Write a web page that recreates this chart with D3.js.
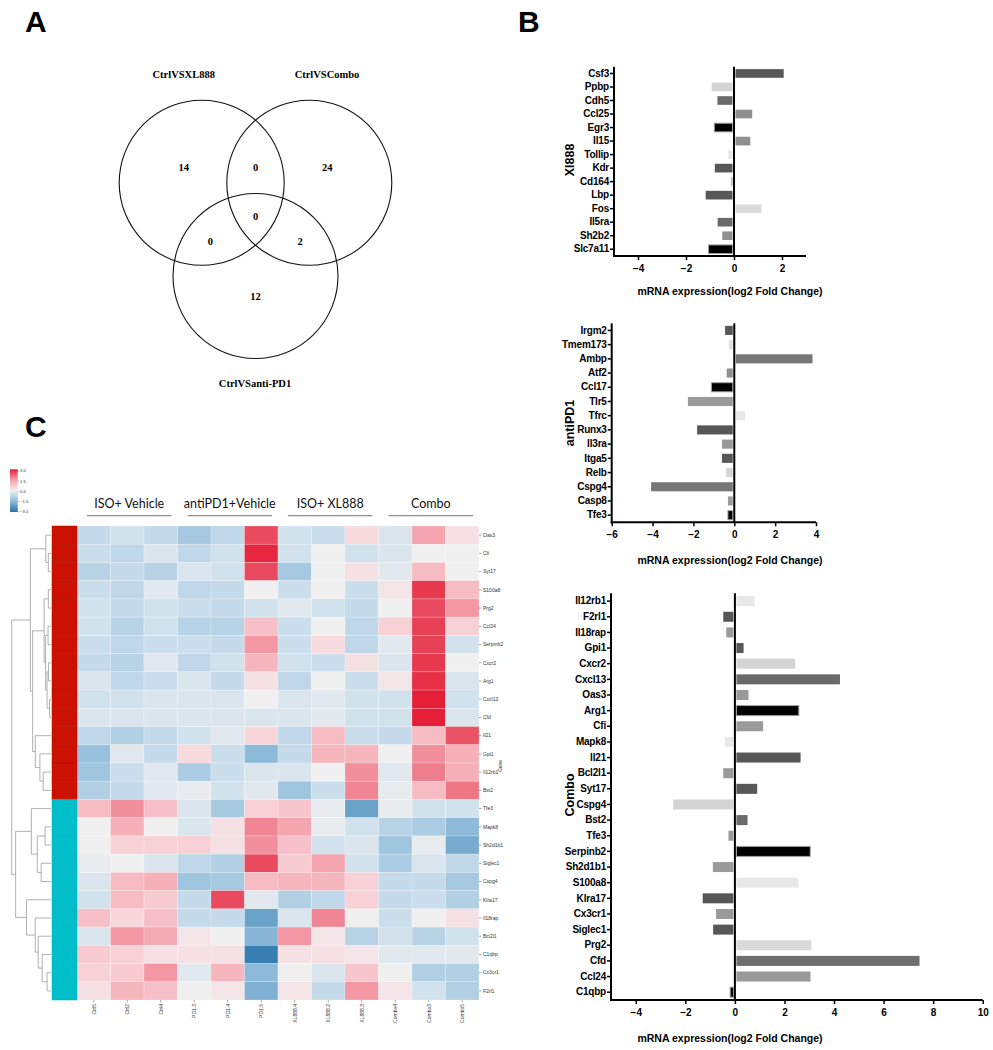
<!DOCTYPE html>
<html><head><meta charset="utf-8">
<script src="https://cdn.jsdelivr.net/npm/d3@7"></script>
<style>body{margin:0;background:#fff}svg{display:block}</style>
</head><body>
<svg id="fig" width="993" height="1050"></svg>
<script>
// ---------- DATA ----------
const vennSets = ["CtrlVSXL888", "CtrlVSCombo", "CtrlVSanti-PD1"];
const vennCounts = [14, 0, 24, 0, 0, 2, 12]; // XL only, XL∩Combo, Combo only, all three, XL∩PD1, Combo∩PD1, PD1 only

const xlGenes = ["Csf3","Ppbp","Cdh5","Ccl25","Egr3","Il15","Tollip","Kdr","Cd164","Lbp","Fos","Il5ra","Sh2b2","Slc7a11"];
const xlValues = [2.07,-0.93,-0.69,0.76,-0.82,0.68,-0.24,-0.8,-0.12,-1.18,1.15,-0.68,-0.49,-1.06];
const xlFills = ["#575757","#d4d4d4","#6a6a6a","#8f8f8f","#000000","#8f8f8f","#e8e8e8","#575757","#b0b0b0","#575757","#dcdcdc","#6a6a6a","#8f8f8f","#000000"];
const xlTicks = [-4,-2,0,2];

const pdGenes = ["Irgm2","Tmem173","Ambp","Atf2","Ccl17","Tlr5","Tfrc","Runx3","Il3ra","Itga5","Relb","Cspg4","Casp8","Tfe3"];
const pdValues = [-0.45,-0.26,3.83,-0.37,-1.12,-2.27,0.53,-1.82,-0.6,-0.6,-0.4,-4.07,-0.31,-0.31];
const pdFills = ["#575757","#e0e0e0","#777777","#8f8f8f","#000000","#9a9a9a","#e8e8e8","#575757","#9a9a9a","#575757","#d4d4d4","#777777","#9a9a9a","#000000"];
const pdTicks = [-6,-4,-2,0,2,4];

const comboGenes = ["Il12rb1","F2rl1","Il18rap","Gpi1","Cxcr2","Cxcl13","Oas3","Arg1","Cfi","Mapk8","Il21","Bcl2l1","Syt17","Cspg4","Bst2","Tfe3","Serpinb2","Sh2d1b1","S100a8","Klra17","Cx3cr1","Siglec1","Prg2","Cfd","Ccl24","C1qbp"];
const comboValues = [0.8,-0.47,-0.35,0.35,2.43,4.24,0.55,2.58,1.14,-0.4,2.65,-0.47,0.9,-2.49,0.51,-0.26,3.04,-0.89,2.57,-1.3,-0.76,-0.88,3.09,7.45,3.05,-0.19];
const comboFills = ["#e8e8e8","#575757","#9a9a9a","#575757","#d4d4d4","#6a6a6a","#9a9a9a","#000000","#9a9a9a","#e8e8e8","#575757","#9a9a9a","#575757","#d4d4d4","#6a6a6a","#9a9a9a","#000000","#9a9a9a","#e8e8e8","#575757","#9a9a9a","#575757","#d9d9d9","#6e6e6e","#9a9a9a","#000000"];
const comboTicks = [-4,-2,0,2,4,6,8,10];

const heatGroups = ["ISO+ Vehicle","antiPD1+Vehicle","ISO+ XL888","Combo"];
const heatSamples = ["Ctrl5","Ctrl2","Ctrl4","PD1.3","PD1.4","PD1.5","XL888.4","XL888.2","XL888.3","Combo4","Combo3","Combo5"];
const heatGenes = ["Oas3","Cfi","Syt17","S100a8","Prg2","Ccl24","Serpinb2","Cxcr2","Arg1","Cxcl13","Cfd","Il21","Gpi1","Il12rb1","Bst2","Tfe3","Mapk8","Sh2d1b1","Siglec1","Cspg4","Klra17","Il18rap","Bcl2l1","C1qbp","Cx3cr1","F2rl1"];
const heatCluster = [1,1,1,1,1,1,1,1,1,1,1,1,1,1,1,2,2,2,2,2,2,2,2,2,2,2];
const heatValues = [
 [-0.6,-0.4,-0.6,-1.1,-0.7, 2.5,-0.4,-0.5, 0.4,-0.3, 1.4, 0.3],
 [-0.5,-0.7,-0.3,-0.7,-0.4, 2.9,-0.4, 0.0,-0.4,-0.3, 0.0, 0.0],
 [-0.8,-0.6,-0.8,-0.3,-0.4, 2.5,-1.1, 0.0, 0.3,-0.2, 1.0, 0.0],
 [-0.5,-0.7,-0.2,-0.7,-0.6, 0.0,-0.5, 0.0,-0.5, 0.2, 2.7, 1.0],
 [-0.4,-0.6,-0.4,-0.5,-0.6,-0.4,-0.2,-0.4,-0.6, 0.0, 2.5, 1.6],
 [-0.4,-0.8,-0.4,-0.8,-0.8, 0.9,-0.5, 0.0,-0.7, 0.6, 2.6, 0.6],
 [-0.5,-0.7,-0.5,-0.5,-0.6, 1.6,-0.5, 0.4,-0.7,-0.2, 2.6,-0.4],
 [-0.6,-0.8,-0.2,-0.7,-0.4, 1.1,-0.4,-0.5, 0.3,-0.3, 2.7, 0.0],
 [-0.3,-0.7,-0.5,-0.3,-0.6, 0.3,-0.7, 0.0,-0.5, 0.2, 2.8,-0.3],
 [-0.4,-0.4,-0.3,-0.3,-0.3, 0.0,-0.3,-0.2,-0.4,-0.4, 3.0,-0.4],
 [-0.3,-0.3,-0.3,-0.3,-0.3,-0.3,-0.3,-0.2,-0.4,-0.4, 3.0,-0.3],
 [-0.7,-0.9,-0.6,-0.4,-0.2, 0.5,-0.7, 1.0,-0.5,-0.6, 1.0, 2.4],
 [-1.3,-0.2,-0.6, 0.4,-0.5,-1.5,-0.6, 1.1, 1.1, 0.0, 1.7, 1.2],
 [-1.2,-0.5,-0.2,-1.0,-0.5,-0.3,-0.3, 0.0, 1.7,-0.2, 1.9, 1.2],
 [-0.9,-0.6,-0.2,-0.1,-0.4,-0.2,-1.2,-0.5, 1.8,-0.1, 1.0, 2.0],
 [ 1.0, 1.7, 0.9,-0.3,-1.1, 0.6, 0.8,-0.1,-2.0,-0.1,-0.4,-0.4],
 [ 0.0, 1.2, 0.0,-0.3, 0.3, 1.8, 1.4,-0.1,-0.4,-0.8,-1.0,-1.5],
 [ 0.0, 0.6, 0.6, 0.6, 0.3, 1.7, 0.9,-0.4,-0.3,-1.2,-0.1,-1.8],
 [-0.1, 0.0,-0.3,-0.7,-0.9, 2.5, 0.7, 1.4,-0.4,-1.0,-0.3,-0.7],
 [-0.3, 1.0, 1.2,-1.2,-1.1, 1.0, 1.1, 1.1, 0.6,-0.6,-0.6,-1.1],
 [-0.4, 1.0, 0.7,-0.6, 2.5,-0.2,-0.9,-0.7, 0.6,-0.6,-0.5,-0.9],
 [ 0.9, 0.5, 0.9,-0.6,-0.6,-2.0,-0.3, 1.8, 0.0,-0.5, 0.0, 0.3],
 [-0.3, 1.6, 1.3, 0.2, 0.0,-1.6, 1.6, 0.2,-0.8,-0.4,-0.8,-0.4],
 [ 0.7, 0.6, 0.3, 0.3, 0.3,-2.7, 0.3, 0.3, 0.2,-0.2,-0.2,-0.2],
 [ 0.6, 0.7, 1.6,-0.2, 1.1,-1.5, 0.0,-0.3, 0.8, 0.0,-0.9,-0.9],
 [ 0.3, 1.1, 0.9, 0.0, 0.2,-1.7, 0.2,-0.6, 1.6, 0.2,-0.4,-0.9]
];
const colorbarTicks = [3.0, 1.5, 0.0, -1.5, -3.0];
// dendrogram: [height, left, right]; leaves are row indices
const dendro = [40,
  [21, [5.3, 0, [2.7, 1, 2]],
       [18.7, [7, [2.7, 3, 4], [5.5, [3, 5, 6], [4, [2.5, 7, 8], [1.5, 9, 10]]]],
              [16, 11, [11.3, 12, [8, 13, 14]]]]],
  [36, [20, 15, [14, [6, 16, 17], [10, 18, 19]]],
       [25, 20, [16, 21, [13, 22, [9, 23, [4, 24, 25]]]]]]];

// ---------- DRAW ----------
const svg = d3.select("#fig");
const SANS = "'Liberation Sans', Arial, sans-serif";

function panelLabel(t, x, y) {
  svg.append("text").attr("x", x).attr("y", y).text(t)
    .style("font-family", SANS).style("font-weight", "bold").style("font-size", "30px");
}
panelLabel("A", 25, 32);
panelLabel("B", 518, 32);
panelLabel("C", 25, 437);

// ---- Venn ----
(function () {
  const g = svg.append("g");
  const r = 82.5;
  const centers = [[201.7, 182.7], [309.3, 182.7], [255.5, 276]];
  g.selectAll("circle").data(centers).join("circle")
    .attr("cx", d => d[0]).attr("cy", d => d[1]).attr("r", r)
    .attr("fill", "none").attr("stroke", "#111").attr("stroke-width", 1.1);
  const serif = "'Liberation Serif', 'Times New Roman', serif";
  const labPos = [[183.7, 78], [327, 78], [255, 387]];
  g.selectAll("text.set").data(vennSets).join("text").attr("class", "set")
    .attr("x", (d, i) => labPos[i][0]).attr("y", (d, i) => labPos[i][1])
    .attr("text-anchor", "middle").text(d => d)
    .style("font-family", serif).style("font-weight", "bold").style("font-size", "10.5px");
  const c = centers;
  const numPos = [
    [c[0][0] - 18, c[0][1] - 15],
    [(c[0][0] + c[1][0]) / 2, c[0][1] - 15],
    [c[1][0] + 18, c[1][1] - 15],
    [(c[0][0] + c[1][0]) / 2, 216],
    [c[0][0] + 8.6, 241.5],
    [c[1][0] - 9.3, 241.5],
    [c[2][0], 296.5]
  ];
  g.selectAll("text.num").data(vennCounts).join("text").attr("class", "num")
    .attr("x", (d, i) => numPos[i][0]).attr("y", (d, i) => numPos[i][1] + 3.5)
    .attr("text-anchor", "middle").text(d => d)
    .style("font-family", serif).style("font-weight", "bold").style("font-size", "10.5px");
})();

// ---- Bar charts ----
function barChart(o) {
  const g = svg.append("g");
  const x = d3.scaleLinear().domain(o.domain).range(o.xr);
  const y = d3.scaleBand().domain(o.genes).range(o.yr).paddingInner(0.36).paddingOuter(0.18);
  const x0 = x(0);
  g.selectAll("rect").data(o.values).join("rect")
    .attr("x", d => d >= 0 ? x0 + 1.5 : x(d))
    .attr("width", d => Math.max(0.5, Math.abs(x(d) - x0) - 1.5))
    .attr("y", (d, i) => y(o.genes[i]))
    .attr("height", y.bandwidth())
    .attr("fill", (d, i) => o.fills[i])
    .attr("stroke", (d, i) => o.fills[i] === "#000000" ? "#a0a0a0" : "none")
    .attr("stroke-width", 1);
  g.append("line").attr("x1", x0).attr("x2", x0).attr("y1", o.yr[0]).attr("y2", o.yr[1])
    .attr("stroke", "#000").attr("stroke-width", 2);
  const ax = g.append("g").attr("transform", `translate(0,${o.yr[1]})`)
    .call(d3.axisBottom(x).tickValues(o.ticks).tickSize(4).tickSizeOuter(0).tickFormat(d3.format("d")));
  const ay = g.append("g").attr("transform", `translate(${o.xr[0]},0)`)
    .call(d3.axisLeft(y).tickSize(4).tickSizeOuter(0).tickPadding(1));
  [ax, ay].forEach(a => {
    a.select(".domain").attr("stroke", "#000").attr("stroke-width", 2);
    a.selectAll(".tick line").attr("stroke", "#000").attr("stroke-width", 1.5);
    a.selectAll("text").style("font-family", SANS).style("font-weight", "bold")
      .style("font-size", "10px").attr("fill", "#000");
  });
  ay.selectAll("text").style("letter-spacing", "-0.2px");
  ax.selectAll("text").attr("dy", "0.9em");
  ax.select(".domain").attr("d", `M${o.xr[0] - 1},0H${o.xr[1]}`);
  ay.select(".domain").attr("d", `M0,${o.yr[0]}V${o.yr[1] + 1}`);
  g.append("text").attr("x", 730).attr("y", o.titleY).attr("text-anchor", "middle")
    .text("mRNA expression(log2 Fold Change)")
    .style("font-family", SANS).style("font-weight", "bold").style("font-size", "10.5px");
  g.append("text").attr("transform", `translate(574,${o.groupY}) rotate(-90)`)
    .attr("text-anchor", "middle").text(o.group)
    .style("font-family", SANS).style("font-weight", "bold").style("font-size", "12.5px");
}
barChart({genes: xlGenes, values: xlValues, fills: xlFills, ticks: xlTicks, domain: [-5, 3],
  xr: [614, 806], yr: [66.7, 256], titleY: 294.5, group: "Xl888", groupY: 160});
barChart({genes: pdGenes, values: pdValues, fills: pdFills, ticks: pdTicks, domain: [-6, 4],
  xr: [611.7, 816], yr: [323.3, 522.3], titleY: 564, group: "antiPD1", groupY: 423});
barChart({genes: comboGenes, values: comboValues, fills: comboFills, ticks: comboTicks, domain: [-5, 10],
  xr: [611, 982.7], yr: [593.3, 1000], titleY: 1042, group: "Combo", groupY: 795});

// ---- Heatmap ----
(function () {
  const g = svg.append("g");
  const x = d3.scaleBand().domain(heatSamples).range([77, 479]);
  const y = d3.scaleBand().domain(heatGenes).range([526, 1000]);
  const color = d3.scaleLinear().domain([-3, -1.5, -0.5, 0, 0.5, 1.5, 3])
    .range(["#2371aa", "#8dbad9", "#cbdeec", "#f0f0f0", "#f9d6db", "#f3a0ab", "#e41f37"]).clamp(true);
  const cells = [];
  heatValues.forEach((row, i) => row.forEach((v, j) => cells.push({g: heatGenes[i], s: heatSamples[j], v})));
  g.selectAll("rect.cell").data(cells).join("rect").attr("class", "cell")
    .attr("x", d => x(d.s)).attr("y", d => y(d.g))
    .attr("width", x.bandwidth()).attr("height", y.bandwidth())
    .attr("fill", d => color(d.v)).attr("stroke", "#ffffff").attr("stroke-opacity", 0.35).attr("stroke-width", 0.6);
  const annColor = {1: "#cd1100", 2: "#00bfca"};
  g.selectAll("rect.ann").data(heatGenes).join("rect").attr("class", "ann")
    .attr("x", 52).attr("y", d => y(d)).attr("width", 25).attr("height", y.bandwidth())
    .attr("fill", (d, i) => annColor[heatCluster[i]])
    .attr("stroke", (d, i) => heatCluster[i] === 1 ? "#b80e00" : "#00b3bd").attr("stroke-width", 0.5);
  g.selectAll("line.rt").data(heatGenes).join("line").attr("class", "rt")
    .attr("x1", 479).attr("x2", 481.5).attr("y1", d => y(d) + y.bandwidth() / 2).attr("y2", d => y(d) + y.bandwidth() / 2)
    .attr("stroke", "#555").attr("stroke-width", 0.5);
  g.selectAll("text.rl").data(heatGenes).join("text").attr("class", "rl")
    .attr("x", 483).attr("y", d => y(d) + y.bandwidth() / 2 + 1.8).text(d => d)
    .style("font-family", SANS).style("font-size", "5px").attr("fill", "#333");
  g.append("text").attr("transform", "translate(502,766) rotate(-90)").attr("text-anchor", "middle")
    .text("Gene").style("font-family", SANS).style("font-size", "5px").attr("fill", "#333");
  g.selectAll("line.ct").data(heatSamples).join("line").attr("class", "ct")
    .attr("x1", d => x(d) + x.bandwidth() / 2).attr("x2", d => x(d) + x.bandwidth() / 2)
    .attr("y1", 1000).attr("y2", 1002.5).attr("stroke", "#555").attr("stroke-width", 0.5);
  g.selectAll("text.cl").data(heatSamples).join("text").attr("class", "cl")
    .attr("transform", d => `translate(${x(d) + x.bandwidth() / 2 + 1.8},1004) rotate(-90)`)
    .attr("text-anchor", "end").text(d => d)
    .style("font-family", SANS).style("font-size", "5px").attr("fill", "#333");
  heatGroups.forEach((name, k) => {
    const x0 = x(heatSamples[k * 3]), x1 = x(heatSamples[k * 3 + 2]) + x.bandwidth();
    g.append("text").attr("x", (x0 + x1) / 2 + 2).attr("y", 508).attr("text-anchor", "middle").text(name)
      .style("font-family", "Lato, sans-serif").style("font-size", "12.5px").attr("fill", "#111");
    g.append("line").attr("x1", x0 + 10).attr("x2", x1 - 6).attr("y1", 515.7).attr("y2", 515.7)
      .attr("stroke", "#777").attr("stroke-width", 1);
  });
  const defs = svg.append("defs");
  const grad = defs.append("linearGradient").attr("id", "cb").attr("x1", 0).attr("x2", 0).attr("y1", 0).attr("y2", 1);
  d3.range(0, 1.0001, 0.05).forEach(t => grad.append("stop").attr("offset", t).attr("stop-color", color(3 - 6 * t)));
  g.append("rect").attr("x", 10).attr("y", 469.3).attr("width", 7.7).attr("height", 42.7).attr("fill", "url(#cb)");
  const cy = d3.scaleLinear().domain([3, -3]).range([471, 511.7]);
  g.selectAll("text.cbt").data(colorbarTicks).join("text").attr("class", "cbt")
    .attr("x", 20).attr("y", d => cy(d) + 1.4)
    .text(d => d3.format(".1f")(d).replace("-", "\u2212"))
    .style("font-family", SANS).style("font-size", "4.2px").attr("fill", "#333");
  g.selectAll("line.cbl").data(colorbarTicks).join("line").attr("class", "cbl")
    .attr("x1", 17.7).attr("x2", 19.2).attr("y1", d => cy(d)).attr("y2", d => cy(d))
    .attr("stroke", "#555").attr("stroke-width", 0.4);
  const dx = d3.scaleLinear().domain([0, 40]).range([51, 11.7]);
  const dg = g.append("g").attr("fill", "none").attr("stroke", "#a8a8a8").attr("stroke-width", 0.9);
  function walk(node) {
    if (typeof node === "number") return {x: dx(0), y: y(heatGenes[node]) + y.bandwidth() / 2};
    const [h, a, b] = node;
    const A = walk(a), B = walk(b), nx = dx(h);
    dg.append("path").attr("d", `M${A.x},${A.y}H${nx}V${B.y}H${B.x}`);
    return {x: nx, y: (A.y + B.y) / 2};
  }
  walk(dendro);
})();
</script>
</body></html>
